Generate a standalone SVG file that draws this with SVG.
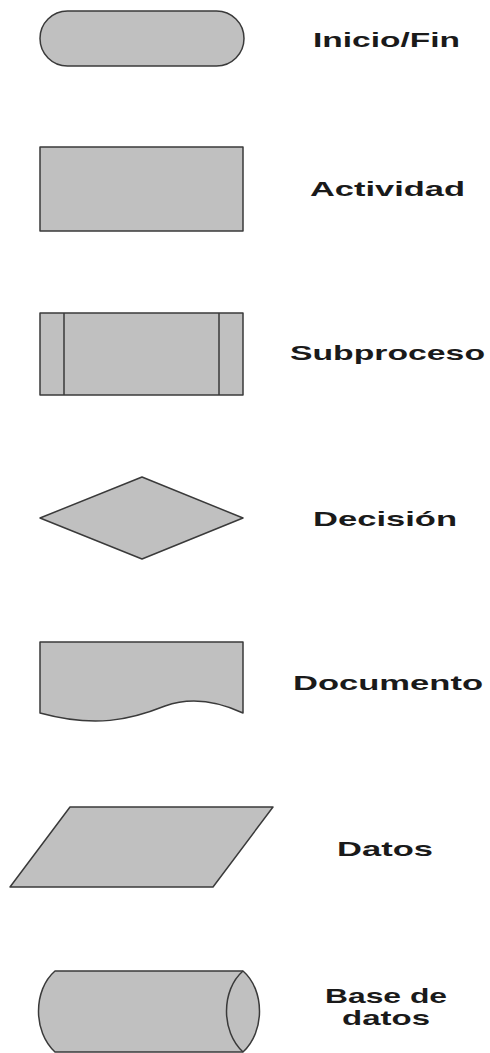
<svg xmlns="http://www.w3.org/2000/svg" width="490" height="1053" viewBox="0 0 490 1053">
<style>
.s{fill:#c0c0c0;stroke:#3a3a3a;stroke-width:1.5;stroke-linejoin:round}
.l{fill:none;stroke:#3a3a3a;stroke-width:1.5}
.t{font-family:"Liberation Sans",Arial,sans-serif;font-weight:bold;font-size:21px;fill:#1a1a1a}
</style>
<rect width="490" height="1053" fill="#ffffff"/>
<g id="inicio-fin">
<rect class="s" x="40" y="11" width="204" height="55" rx="27.5" ry="27.5"/>
<text class="t" x="313" y="47" textLength="147" lengthAdjust="spacingAndGlyphs">Inicio/Fin</text>
</g>
<g id="actividad">
<rect class="s" x="40" y="147" width="203" height="84"/>
<text class="t" x="310" y="196" textLength="155" lengthAdjust="spacingAndGlyphs">Actividad</text>
</g>
<g id="subproceso">
<rect class="s" x="40" y="313" width="203" height="82"/>
<line class="l" x1="64" y1="313" x2="64" y2="395"/>
<line class="l" x1="219" y1="313" x2="219" y2="395"/>
<text class="t" x="290" y="360" textLength="195" lengthAdjust="spacingAndGlyphs">Subproceso</text>
</g>
<g id="decision">
<polygon class="s" points="40,518 142,477 243,518 142,559"/>
<text class="t" x="313" y="526" textLength="144" lengthAdjust="spacingAndGlyphs">Decisión</text>
</g>
<g id="documento">
<path class="s" d="M40,642 H243 V713 C215,700 190,697 165,706 C130,720 95,728 40,713 Z"/>
<text class="t" x="293" y="690" textLength="190" lengthAdjust="spacingAndGlyphs">Documento</text>
</g>
<g id="datos">
<polygon class="s" points="70,807 273,807 213,887 10,887"/>
<text class="t" x="337" y="856" textLength="96" lengthAdjust="spacingAndGlyphs">Datos</text>
</g>
<g id="base-de-datos">
<path class="s" d="M55,971 H243 C265,990 265,1032 243,1052 H55 C33,1032 33,990 55,971 Z"/>
<path class="l" d="M243,971 C221,990 221,1032 243,1052"/>
<text class="t" x="325" y="1003" textLength="122" lengthAdjust="spacingAndGlyphs">Base de</text>
<text class="t" x="342" y="1025" textLength="88" lengthAdjust="spacingAndGlyphs">datos</text>
</g>
<g id="connectors"></g>
</svg>
